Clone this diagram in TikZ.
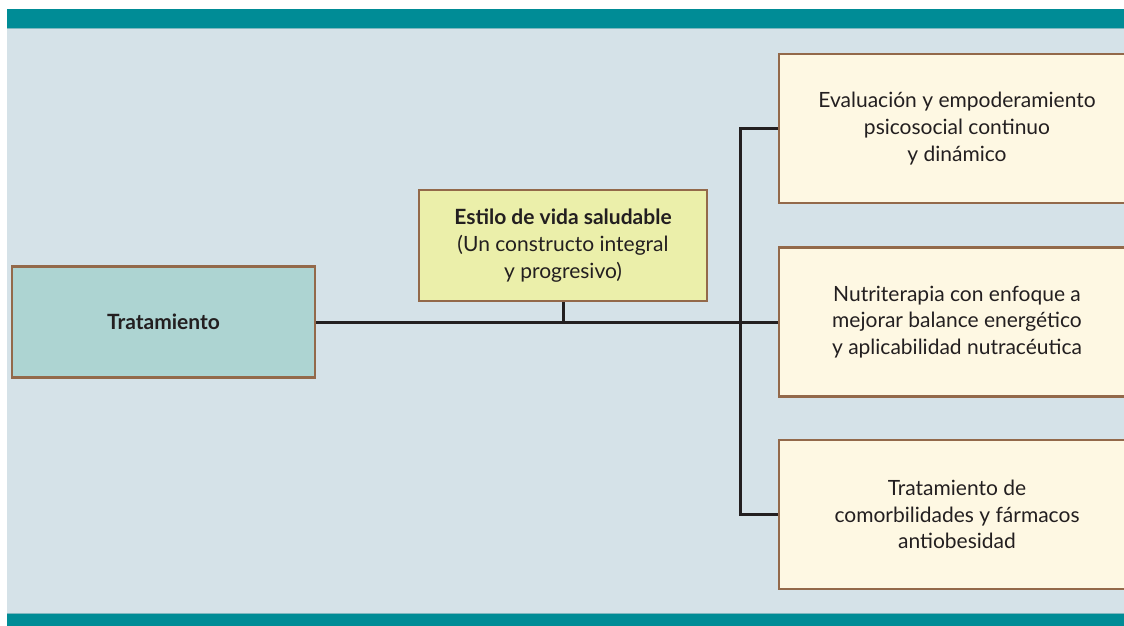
\documentclass[tikz,border=0pt]{standalone}
\usepackage{fontspec}
\setmainfont{Lato}
\definecolor{barteal}{HTML}{008C96}
\definecolor{barlight}{HTML}{7FB8C0}
\definecolor{bgblue}{HTML}{D5E2E8}
\definecolor{tratfill}{HTML}{ADD4D2}
\definecolor{estfill}{HTML}{EBEFAA}
\definecolor{rfill}{HTML}{FEF8E3}
\definecolor{bordbrown}{HTML}{93694A}
\definecolor{ink}{HTML}{231F20}
\tikzset{
  box/.style={draw=bordbrown, line width=2.5pt, inner sep=0pt, align=center,
    text=ink, font=\fontsize{21}{26.8}\selectfont},
  conn/.style={draw=ink, line width=3pt}
}
\begin{document}
\begin{tikzpicture}[x=1pt,y=-1pt]
\useasboundingbox (0,0) rectangle (1124,626);
\clip (0,0) rectangle (1124,626);
\fill[bgblue] (7,9) rectangle (1130,626);
\fill[barteal] (7,9) rectangle (1130,28);
\draw[barlight, line width=1pt] (7,28.5) -- (1130,28.5);
\fill[barteal] (7,614) rectangle (1130,626);
\draw[barlight, line width=1pt] (7,613.5) -- (1130,613.5);

\node[box, fill=tratfill, minimum width=303pt, minimum height=111pt] (trat) at (163.5,322) {\textbf{Tratamiento}};
\node[box, fill=estfill, minimum width=288pt, minimum height=111pt] (estilo) at (563,245.5)
  {\textbf{Estilo de vida saludable}\\(Un constructo integral\\y progresivo)};
\node[box, fill=rfill, minimum width=356pt, minimum height=149pt] (r1) at (957,128.5)
  {Evaluación y empoderamiento\\psicosocial continuo\\y dinámico};
\node[box, fill=rfill, minimum width=356pt, minimum height=149pt] (r2) at (957,322)
  {Nutriterapia con enfoque a\\mejorar balance energético\\y aplicabilidad nutracéutica};
\node[box, fill=rfill, minimum width=356pt, minimum height=149pt] (r3) at (957,514.5)
  {Tratamiento de\\comorbilidades y fármacos\\antiobesidad};

\coordinate (vx) at (740,322);
\draw[conn] (trat.east) -- (r2.west);
\draw[conn] (estilo.south) -- (estilo.south |- trat.east);
\draw[conn] (r1.west) -| (vx) |- (r3.west);
\end{tikzpicture}
\end{document}
